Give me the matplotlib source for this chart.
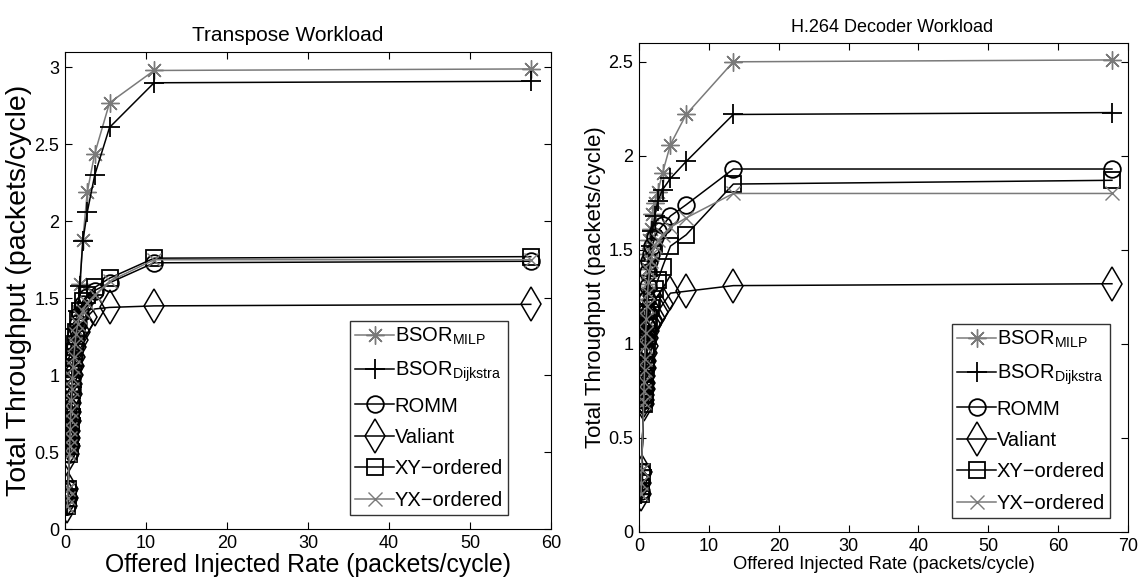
import matplotlib
matplotlib.use("Agg")
import matplotlib.pyplot as plt

FONT = 'Liberation Sans'
plt.rcParams['font.family'] = [FONT, 'DejaVu Sans']
plt.rcParams['mathtext.fontset'] = 'custom'
plt.rcParams['mathtext.rm'] = FONT
plt.rcParams['mathtext.default'] = 'regular'

# ---------------- data: Transpose workload ----------------
x_transpose = [0.3, 0.33, 0.36, 0.55, 0.58, 0.61, 0.65, 0.69, 0.73, 0.79, 0.85, 0.92,
               1.0, 1.1, 1.22, 1.375, 1.57, 1.83, 2.2, 2.75, 3.67, 5.5, 11.0, 57.5]
t_milp = [0.15, 0.2, 0.26, 0.5, 0.55, 0.6, 0.66, 0.72, 0.78, 0.85, 0.92, 0.99,
          1.06, 1.13, 1.2, 1.3, 1.42, 1.59, 1.88, 2.19, 2.44, 2.77, 2.98, 2.99]
t_dijkstra = [0.15, 0.2, 0.26, 0.5, 0.55, 0.6, 0.66, 0.72, 0.78, 0.85, 0.92, 0.99,
              1.06, 1.13, 1.2, 1.3, 1.42, 1.58, 1.87, 2.06, 2.30, 2.61, 2.90, 2.91]
t_romm = [0.15, 0.2, 0.26, 0.49, 0.54, 0.59, 0.65, 0.71, 0.77, 0.84, 0.91, 0.98,
          1.05, 1.12, 1.19, 1.27, 1.34, 1.40, 1.46, 1.51, 1.55, 1.60, 1.73, 1.74]
t_valiant = [0.15, 0.2, 0.26, 0.49, 0.54, 0.59, 0.64, 0.70, 0.76, 0.82, 0.88, 0.94,
             1.0, 1.06, 1.12, 1.18, 1.23, 1.28, 1.33, 1.38, 1.43, 1.44, 1.45, 1.46]
t_xy = [0.15, 0.2, 0.26, 0.49, 0.54, 0.59, 0.65, 0.71, 0.77, 0.84, 0.91, 0.98,
        1.05, 1.12, 1.20, 1.28, 1.36, 1.42, 1.48, 1.52, 1.57, 1.63, 1.76, 1.77]
t_yx = [0.15, 0.2, 0.26, 0.49, 0.54, 0.59, 0.65, 0.71, 0.77, 0.84, 0.91, 0.98,
        1.05, 1.12, 1.20, 1.27, 1.33, 1.38, 1.42, 1.47, 1.52, 1.61, 1.75, 1.75]

# ---------------- data: H.264 decoder workload ----------------
x_h264 = [0.3, 0.33, 0.36, 0.675, 0.71, 0.75, 0.79, 0.84, 0.9, 0.96, 1.04, 1.125,
          1.23, 1.35, 1.5, 1.69, 1.93, 2.25, 2.7, 3.375, 4.5, 6.75, 13.5, 67.7]
h_milp = [0.2, 0.26, 0.33, 0.70, 0.78, 0.86, 0.93, 1.0, 1.08, 1.16, 1.24, 1.32,
          1.40, 1.48, 1.55, 1.61, 1.69, 1.75, 1.81, 1.91, 2.06, 2.22, 2.50, 2.51]
h_dijkstra = [0.2, 0.26, 0.33, 0.69, 0.75, 0.81, 0.87, 0.93, 1.0, 1.07, 1.14, 1.21,
              1.29, 1.36, 1.44, 1.52, 1.60, 1.68, 1.76, 1.82, 1.88, 1.97, 2.22, 2.23]
h_romm = [0.22, 0.27, 0.32, 0.70, 0.77, 0.84, 0.90, 0.96, 1.03, 1.10, 1.17, 1.24,
          1.31, 1.38, 1.44, 1.48, 1.52, 1.57, 1.60, 1.63, 1.68, 1.74, 1.93, 1.93]
h_valiant = [0.2, 0.26, 0.32, 0.68, 0.70, 0.73, 0.76, 0.79, 0.83, 0.87, 0.91, 0.95,
             0.99, 1.03, 1.07, 1.10, 1.12, 1.14, 1.17, 1.21, 1.27, 1.28, 1.31, 1.32]
h_xy = [0.2, 0.26, 0.32, 0.68, 0.70, 0.73, 0.76, 0.80, 0.84, 0.89, 0.94, 0.99,
        1.04, 1.09, 1.14, 1.19, 1.24, 1.29, 1.34, 1.41, 1.52, 1.58, 1.85, 1.87]
h_yx = [0.2, 0.26, 0.33, 0.69, 0.75, 0.80, 0.86, 0.92, 0.99, 1.06, 1.13, 1.20,
        1.27, 1.33, 1.39, 1.44, 1.48, 1.52, 1.55, 1.58, 1.62, 1.67, 1.80, 1.80]

labels = [r'BSOR$_{MILP}$', r'BSOR$_{Dijkstra}$', 'ROMM', 'Valiant', 'XY\u2212ordered', 'YX\u2212ordered']
titles = ['Transpose Workload', 'H.264 Decoder Workload']

GRAY = '#7a7a7a'
styles = [
    dict(color=GRAY, marker=(8, 2, 0), markersize=13, markeredgewidth=1.0),
    dict(color='black', marker='+', markersize=14, markeredgewidth=1.3),
    dict(color='black', marker='o', markersize=12, markerfacecolor='none', markeredgewidth=1.3),
    dict(color='black', marker='d', markersize=17, markerfacecolor='none', markeredgewidth=1.1),
    dict(color='black', marker='s', markersize=12, markerfacecolor='none', markeredgewidth=1.3),
    dict(color=GRAY, marker='x', markersize=10, markeredgewidth=1.0),
]

fig = plt.figure(figsize=(11.41, 5.85), dpi=100)
axL = fig.add_axes([65/1141, 1 - 529/585, (551-65)/1141, (529-52)/585])
axR = fig.add_axes([639/1141, 1 - 532/585, (1128-639)/1141, (532-43)/585])


def draw(ax, x, series, xmax, ymax, yticks, title, tfs, tx, lfs, xfs, leg_bbox):
    for y, lab, st in zip(series, labels, styles):
        ax.plot(x, y, label=lab, linewidth=1.1, **st)
    ax.set_xlim(0, xmax)
    ax.set_ylim(0, ymax)
    ax.set_yticks(yticks)
    ax.set_yticklabels([('%g' % v) for v in yticks])
    ax.tick_params(direction='in', top=True, right=True, labelsize=13, length=5, pad=4)
    ax.set_title(title, fontsize=tfs, pad=8, x=tx)
    ax.set_ylabel('Total Throughput (packets/cycle)', fontsize=lfs, labelpad=2)
    ax.set_xlabel('Offered Injected Rate (packets/cycle)', fontsize=xfs, labelpad=1)
    leg = ax.legend(loc='lower right', bbox_to_anchor=leg_bbox, prop={'size': 14.5},
                    frameon=True, fancybox=False, edgecolor='black', handlelength=1.9,
                    handletextpad=0.05, borderpad=0.25, labelspacing=0.62, borderaxespad=0.0)
    leg.get_frame().set_linewidth(1.0)

draw(axL, x_transpose, [t_milp, t_dijkstra, t_romm, t_valiant, t_xy, t_yx],
     60, 3.1, [0, 0.5, 1, 1.5, 2, 2.5, 3], titles[0], 15, (288-65)/486, 20.5, 17.8,
     ((508-65)/486, (529-515)/477))
draw(axR, x_h264, [h_milp, h_dijkstra, h_romm, h_valiant, h_xy, h_yx],
     70, 2.6, [0, 0.5, 1, 1.5, 2, 2.5], titles[1], 13, (892-639)/489, 16, 13.2,
     ((1110-639)/489, (532-518)/489))

fig.savefig('out.png', dpi=100)
